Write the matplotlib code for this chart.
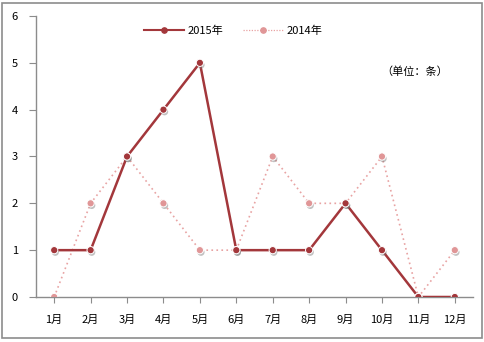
import matplotlib
matplotlib.use("Agg")
import matplotlib.pyplot as plt
import matplotlib.patheffects as pe
from matplotlib.lines import Line2D
from matplotlib.patches import Rectangle

plt.rcParams['font.family'] = ['Noto Sans CJK SC', 'DejaVu Sans']

months = ['1月', '2月', '3月', '4月', '5月', '6月', '7月', '8月', '9月', '10月', '11月', '12月']
y2015 = [1, 1, 3, 4, 5, 1, 1, 1, 2, 1, 0, 0]
y2014 = [0, 2, 3, 2, 1, 1, 3, 2, 2, 3, 0, 1]
yticks = [0, 1, 2, 3, 4, 5, 6]

c2015 = '#A3373B'
c2014 = '#E8A3A3'
m2014 = '#E09697'
axis_gray = '#8C8C8C'

fig = plt.figure(figsize=(4.85, 3.42), dpi=100)
fig.patches.append(Rectangle((0.005, 0.012), 0.989, 0.98, transform=fig.transFigure,
                             fill=False, edgecolor='#8C8C8C', linewidth=1.2))
ax = fig.add_axes([0.0742, 0.1316, 0.9011, 0.8216])

x = list(range(len(months)))
shadow = [pe.SimplePatchShadow(offset=(0.8, -1.5), shadow_rgbFace='#777777', alpha=0.45), pe.Normal()]

ax.plot(x, y2014, color=c2014, linestyle=(0, (1, 2)), linewidth=1.2, zorder=2)
ax.plot(x, y2015, color=c2015, linewidth=1.8, zorder=3)
ax.plot(x, y2014, linestyle='none', marker='o', markersize=5.2, markerfacecolor=m2014,
        markeredgecolor='white', markeredgewidth=0.7, zorder=4, path_effects=shadow)
ax.plot(x, y2015, linestyle='none', marker='o', markersize=5.2, markerfacecolor=c2015,
        markeredgecolor='white', markeredgewidth=0.7, zorder=5, path_effects=shadow)

ax.set_xlim(-0.5, 11.5)
ax.set_ylim(0, 6)
ax.set_xticks(x)
ax.set_xticklabels(months, fontsize=8)
ax.set_yticks(yticks)
ax.set_yticklabels([str(v) for v in yticks], fontsize=8)
for s in ('top', 'right'):
    ax.spines[s].set_visible(False)
for s in ('left', 'bottom'):
    ax.spines[s].set_color(axis_gray)
    ax.spines[s].set_linewidth(1.0)
ax.tick_params(axis='x', direction='out', length=4, color=axis_gray, pad=9)
ax.tick_params(axis='y', direction='out', length=5, color=axis_gray, pad=8)

handles = [
    Line2D([], [], color=c2015, linewidth=1.5, marker='o', markersize=3.8,
           markerfacecolor=c2015, markeredgecolor=c2015),
    Line2D([], [], color=c2014, linewidth=0.9, linestyle=(0, (1, 1.2)), marker='o', markersize=3.8,
           markerfacecolor=m2014, markeredgecolor=m2014),
]
ax.legend(handles, ['2015年', '2014年'], loc='upper center', bbox_to_anchor=(0.452, 1.0),
          ncol=2, frameon=False, fontsize=8, handlelength=3.6, columnspacing=1.8,
          handletextpad=0.3)

fig.text(0.855, 0.79, '（单位：条）', fontsize=8, ha='center', va='center')

fig.savefig('out.png', dpi=100)
